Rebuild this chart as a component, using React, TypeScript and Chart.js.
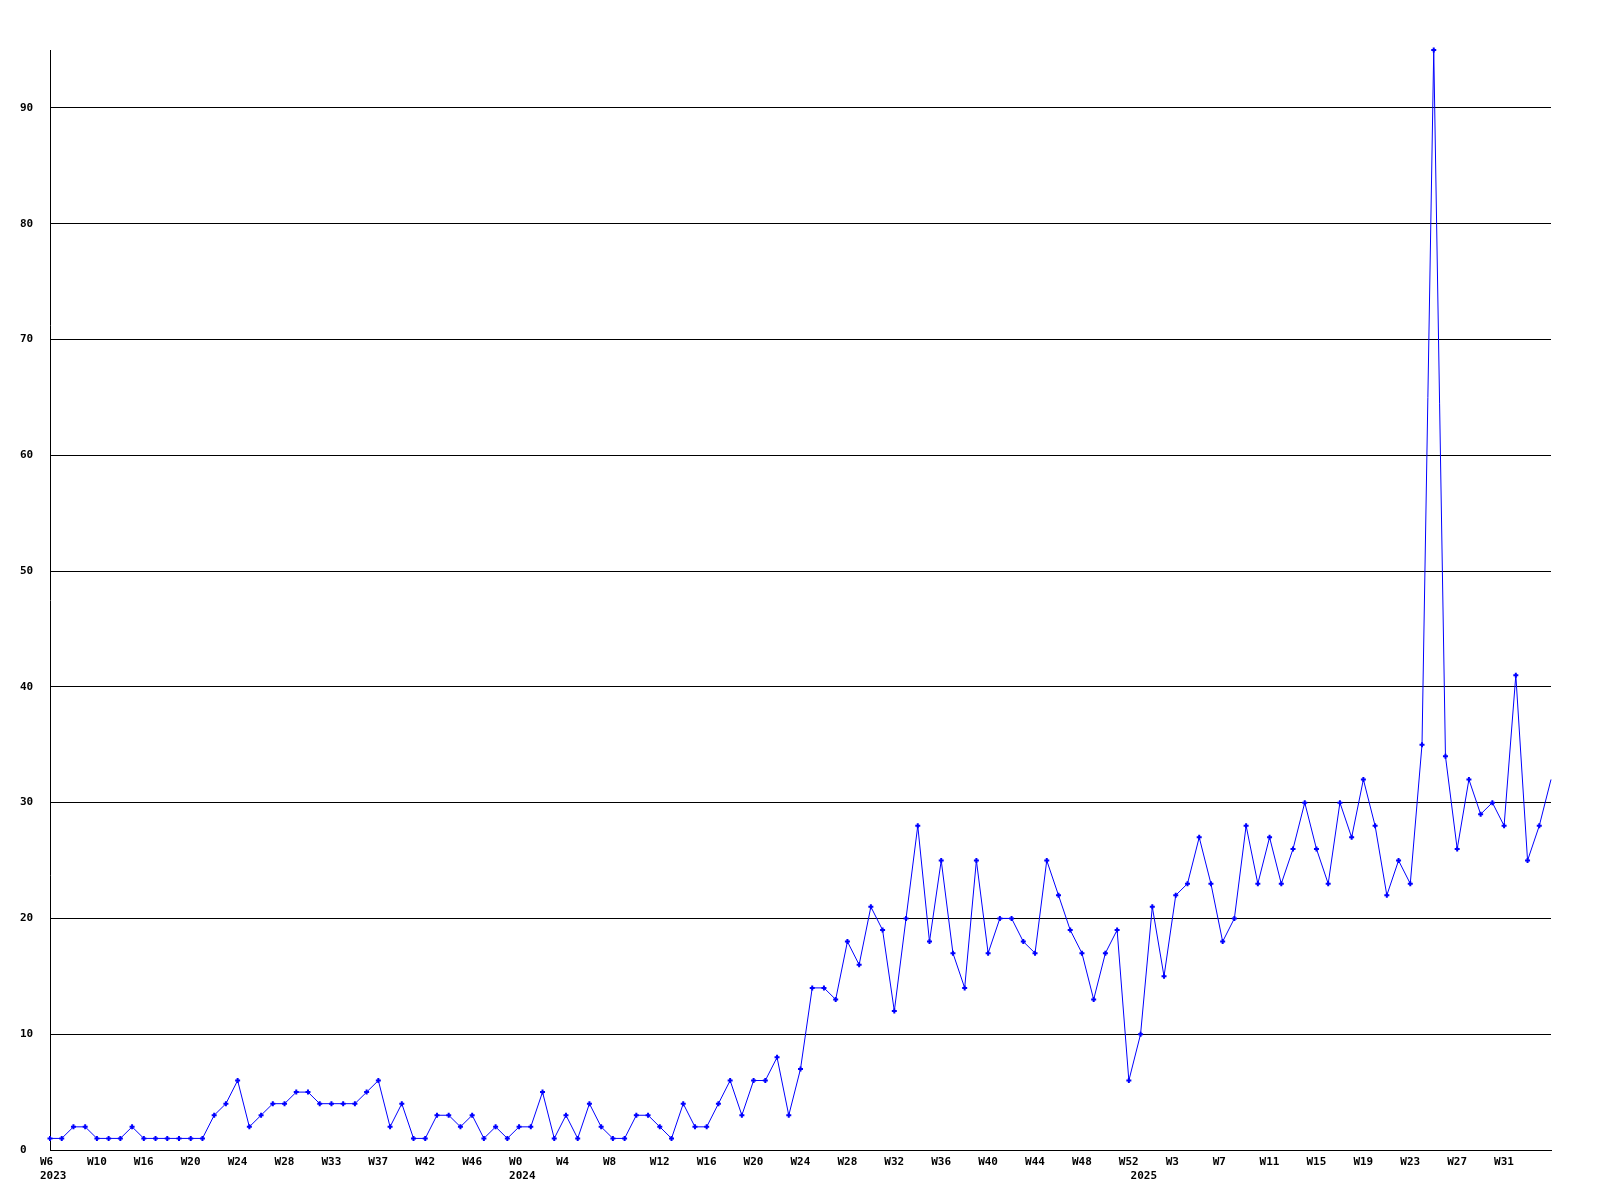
import React, { useEffect, useRef } from "react";
import { Chart, registerables } from "chart.js";

Chart.register(...registerables);

// Weekly counts, one per point (2023 W6 ... 2025 W35)
const values2023 = [
  1, 1, 2, 2, 1, 1, 1, 2, 1, 1, 1, 1, 1, 1, 3, 4, 6, 2, 3, 4,
  4, 5, 5, 4, 4, 4, 4, 5, 6, 2, 4, 1, 1, 3, 3, 2, 3, 1, 2, 1,
];
const values2024 = [
  2, 2, 5, 1, 3, 1, 4, 2, 1, 1, 3, 3, 2, 1, 4, 2, 2, 4, 6, 3,
  6, 6, 8, 3, 7, 14, 14, 13, 18, 16, 21, 19, 12, 20, 28, 18, 25, 17, 14, 25,
  17, 20, 20, 18, 17, 25, 22, 19, 17, 13, 17, 19, 6,
];
const values2025 = [
  10, 21, 15, 22, 23, 27, 23, 18, 20, 28, 23, 27, 23, 26, 30, 26, 23, 30, 27, 32,
  28, 22, 25, 23, 35, 95, 34, 26, 32, 29, 30, 28, 41, 25, 28, 32,
];
const values = [...values2023, ...values2024, ...values2025];

// Week tick labels, shown on every 4th point
const weekTickLabels = [
  "W6", "W10", "W16", "W20", "W24", "W28", "W33", "W37", "W42", "W46",
  "W0", "W4", "W8", "W12", "W16", "W20", "W24", "W28", "W32", "W36", "W40", "W44", "W48", "W52",
  "W3", "W7", "W11", "W15", "W19", "W23", "W27", "W31",
];
const weekTickEvery = 4;
// Year labels and the point they sit under
const yearTickLabels = ["2023", "2024", "2025"];
const yearTickPoints = [0, values2023.length, values2023.length + values2024.length];

const yMax = 95;
const yStep = 10;

const FONT = "'DejaVu Sans Mono', 'Liberation Mono', monospace";

export default function App() {
  const ref = useRef<HTMLCanvasElement | null>(null);

  useEffect(() => {
    if (!ref.current) return;
    const labels = values.map((_, i) => String(i));
    const lastIndex = values.length - 1;
    const chart = new Chart(ref.current, {
      type: "line",
      data: {
        labels,
        datasets: [
          {
            data: values,
            borderColor: "#0000ff",
            backgroundColor: "#0000ff",
            borderWidth: 1,
            pointStyle: "cross",
            pointRadius: (ctx: any) => (ctx.dataIndex === lastIndex ? 0 : 2.5),
            pointBorderWidth: 2,
            pointBorderColor: "#0000ff",
            tension: 0,
            fill: false,
            clip: false,
          } as any,
        ],
      },
      options: {
        responsive: false,
        animation: false,
        devicePixelRatio: 1,
        layout: { padding: { left: 20, top: 50, right: 49, bottom: 0 } },
        plugins: {
          legend: { display: false },
          tooltip: { enabled: false },
          title: { display: false },
        },
        scales: {
          x: {
            type: "category",
            offset: false,
            grid: { display: false, drawTicks: false },
            border: { display: true, color: "#000000", width: 1 },
            afterFit: (scale: any) => {
              scale.height = 50;
            },
            ticks: {
              autoSkip: false,
              maxRotation: 0,
              minRotation: 0,
              align: "start",
              labelOffset: -10,
              padding: 5,
              color: "#000000",
              font: { family: FONT, size: 11, weight: "bold", lineHeight: 1.3 },
              callback: (_v: any, index: number) => {
                const wk = index % weekTickEvery === 0 ? weekTickLabels[index / weekTickEvery] || "" : "";
                const yi = yearTickPoints.indexOf(index);
                if (yi >= 0) return [wk, yearTickLabels[yi]];
                return wk;
              },
            },
          },
          y: {
            min: 0,
            max: yMax,
            grid: { color: "#000000", lineWidth: 1, drawTicks: false },
            border: { display: true, color: "#000000", width: 1 },
            afterFit: (scale: any) => {
              scale.width = 30;
            },
            ticks: {
              stepSize: yStep,
              includeBounds: false,
              crossAlign: "far",
              padding: 0,
              color: "#000000",
              font: { family: FONT, size: 11, weight: "bold" },
            },
          },
        },
      },
    });
    return () => chart.destroy();
  }, []);

  return (
    <div style={{ position: "fixed", left: 0, top: 0, width: 1600, height: 1200, background: "#ffffff" }}>
      <canvas ref={ref} width={1600} height={1200} style={{ width: 1600, height: 1200, display: "block" }} />
    </div>
  );
}
